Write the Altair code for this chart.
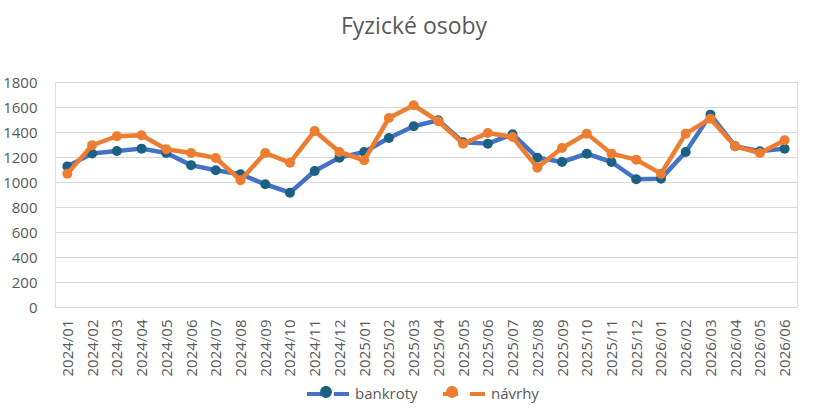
import altair as alt
import pandas as pd

months = ["2024/01","2024/02","2024/03","2024/04","2024/05","2024/06","2024/07","2024/08","2024/09","2024/10","2024/11","2024/12",
          "2025/01","2025/02","2025/03","2025/04","2025/05","2025/06","2025/07","2025/08","2025/09","2025/10","2025/11","2025/12",
          "2026/01","2026/02","2026/03","2026/04","2026/05","2026/06"]
bankroty = [1125, 1228, 1248, 1267, 1232, 1135, 1094, 1062, 982, 915, 1088, 1195,
            1240, 1352, 1446, 1494, 1318, 1307, 1382, 1195, 1160, 1227, 1160, 1022,
            1027, 1240, 1539, 1286, 1246, 1267]
navrhy = [1067, 1294, 1366, 1374, 1262, 1232, 1192, 1014, 1232, 1155, 1408, 1240,
          1174, 1512, 1614, 1486, 1307, 1392, 1360, 1115, 1272, 1387, 1227, 1179,
          1067, 1387, 1507, 1286, 1232, 1334]
series = ["bankroty", "návrhy"]

rows = []
for m, b, n in zip(months, bankroty, navrhy):
    rows.append({"month": m, "series": "bankroty", "series_m": "bankroty", "value": b})
    rows.append({"month": m, "series": "návrhy", "series_m": "návrhy", "value": n})
df = pd.DataFrame(rows)

FONT = "Open Sans"
TXT = "#595959"
line_colors = ["#4472C4", "#ED7D31"]
marker_colors = ["#1B6183", "#ED7D31"]

x = alt.X("month:N", sort=months, title=None,
          scale=alt.Scale(padding=0.5),
          axis=alt.Axis(labelAngle=-90, domain=False, ticks=False, grid=False,
                        labelPadding=12, labelFontSize=15, labelColor=TXT, labelFont=FONT))
y = alt.Y("value:Q", title=None,
          scale=alt.Scale(domain=[0, 1800], nice=False),
          axis=alt.Axis(values=list(range(0, 1801, 200)), format="d", domain=False, ticks=False,
                        gridColor="#D9D9D9", gridWidth=1, labelPadding=18,
                        labelFontSize=15, labelColor=TXT, labelFont=FONT))

legend_common = dict(orient="none", legendX=250, legendY=289, direction="horizontal",
                     title=None, labelFont=FONT, labelFontSize=15, labelColor=TXT,
                     symbolSize=1764, labelOffset=4)

stroke = alt.Stroke("series:N", scale=alt.Scale(domain=series, range=line_colors),
                    legend=alt.Legend(symbolType="M-1,0L-0.28,0M0.28,0L1,0",
                                      symbolStrokeWidth=4, columnPadding=17, **legend_common))
fill = alt.Fill("series_m:N", sort=series, scale=alt.Scale(range=marker_colors),
                legend=alt.Legend(symbolType="M0.28,0A0.28,0.28 0 1,1 -0.28,0A0.28,0.28 0 1,1 0.28,0Z",
                                  symbolStrokeWidth=0, symbolOpacity=1, labelExpr="''",
                                  columnPadding=80, **legend_common))

layers = []
for s in series:
    base = alt.Chart(df).transform_filter(alt.datum.series == s)
    layers.append(base.mark_line(strokeWidth=4.5, strokeJoin="round").encode(x=x, y=y, stroke=stroke))
    layers.append(base.mark_circle(size=100, opacity=1).encode(x=x, y=y, fill=fill))

chart = alt.layer(*layers).properties(
    width=742, height=225,
    title=alt.TitleParams("Fyzické osoby", font=FONT, fontSize=23, fontWeight="normal",
                          color=TXT, anchor="middle", dx=-12, offset=36),
    autosize=alt.AutoSizeParams(type="none"),
    padding={"left": 55, "top": 82, "right": 30, "bottom": 112},
).configure_view(stroke=None).configure(background="white")

chart.save("out.html", embed_options={"renderer": "svg", "actions": False})
